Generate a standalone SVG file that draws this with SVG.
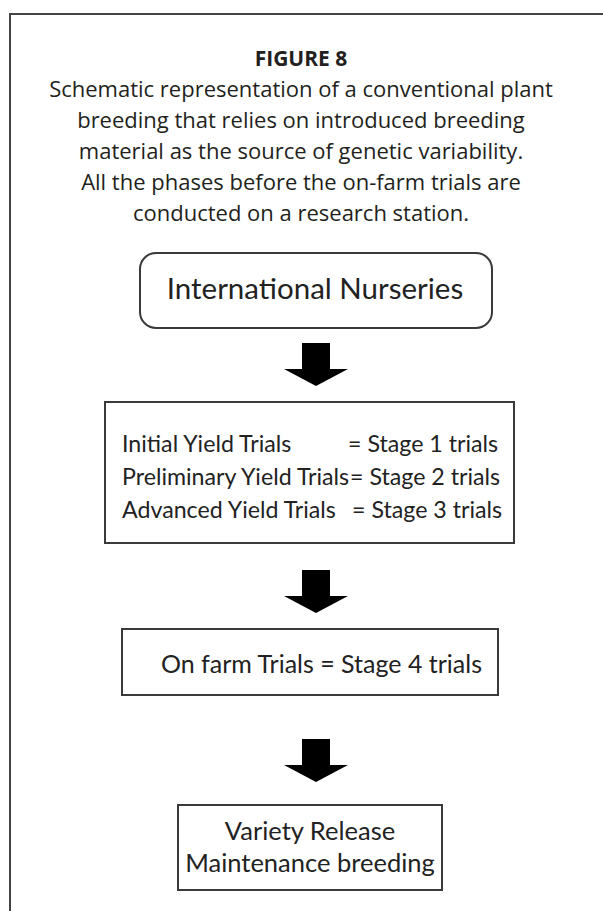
<svg xmlns="http://www.w3.org/2000/svg" width="603" height="911" viewBox="0 0 603 911">
  <style>
    .frame { fill: none; stroke: #444; stroke-width: 2; }
    .box { fill: #fff; stroke: #3a3a3a; stroke-width: 2; }
    .cap { font-family: "Open Sans", "Noto Sans", sans-serif; font-size: 22px; fill: #231f20; text-anchor: middle; }
    .title { font-weight: bold; font-size: 21px; }
    .lbl { font-family: "Lato", "Open Sans", sans-serif; font-size: 25px; fill: #222; }
    .sm { font-size: 23.2px; }
    .lg { font-size: 29.5px; }
    .md { font-size: 25.5px; }
    .mid { text-anchor: middle; }
    .arrow { fill: #000; }
  </style>
  <defs>
    <!-- block arrow pointing down, origin at top centre of shaft -->
    <path id="down" d="M -14 0 H 14 V 26 H 32 L 0 43 L -32 26 H -14 Z"/>
  </defs>
  <rect width="603" height="911" fill="#fff"/>
  <!-- open frame around the figure -->
  <path class="frame" d="M 10 911 V 14 H 603"/>

  <g id="caption">
    <text class="cap title" x="301" y="66">FIGURE 8</text>
    <text class="cap" x="301" y="97">Schematic representation of a conventional plant</text>
    <text class="cap" x="301" y="128">breeding that relies on introduced breeding</text>
    <text class="cap" x="301" y="159">material as the source of genetic variability.</text>
    <text class="cap" x="301" y="190">All the phases before the on-farm trials are</text>
    <text class="cap" x="301" y="221">conducted on a research station.</text>
  </g>

  <g id="connectors">
    <use href="#down" class="arrow" x="316" y="343"/>
    <use href="#down" class="arrow" x="316" y="570"/>
    <use href="#down" class="arrow" x="316" y="739"/>
  </g>

  <g id="international-nurseries">
    <rect class="box" x="140" y="253" width="352" height="75" rx="16"/>
    <text class="lbl lg mid" x="315" y="299">International Nurseries</text>
  </g>

  <g id="yield-trials">
    <rect class="box" x="105" y="402" width="409" height="141"/>
    <text class="lbl sm" x="122" y="452">Initial Yield Trials</text>
    <text class="lbl sm" x="348" y="452">= Stage 1 trials</text>
    <text class="lbl sm" x="122" y="485">Preliminary Yield Trials</text>
    <text class="lbl sm" x="350" y="485">= Stage 2 trials</text>
    <text class="lbl sm" x="122" y="518">Advanced Yield Trials</text>
    <text class="lbl sm" x="352" y="518">= Stage 3 trials</text>
  </g>

  <g id="on-farm-trials">
    <rect class="box" x="122" y="629" width="376" height="66"/>
    <text class="lbl" x="161" y="673">On farm Trials = Stage 4 trials</text>
  </g>

  <g id="variety-release">
    <rect class="box" x="178" y="805" width="264" height="85"/>
    <text class="lbl md mid" x="310" y="840">Variety Release</text>
    <text class="lbl md mid" x="310" y="872">Maintenance breeding</text>
  </g>
</svg>
